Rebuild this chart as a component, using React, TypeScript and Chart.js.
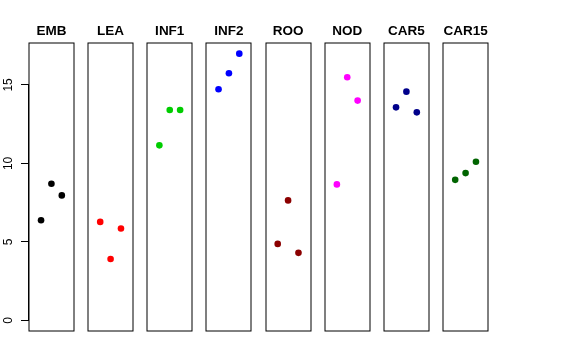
import React, { useEffect, useRef } from "react";
import { Chart, registerables } from "chart.js";

Chart.register(...registerables);

// ---- data ----
const categories = ["EMB", "LEA", "INF1", "INF2", "ROO", "NOD", "CAR5", "CAR15"];
const replicates = [1, 2, 3];
const embValues = [6.38, 8.7, 7.96];
const leaValues = [6.27, 3.91, 5.85];
const inf1Values = [11.15, 13.4, 13.4];
const inf2Values = [14.72, 15.74, 16.99];
const rooValues = [4.87, 7.64, 4.3];
const nodValues = [8.66, 15.49, 14.0];
const car5Values = [13.57, 14.57, 13.25];
const car15Values = [8.95, 9.38, 10.1];
const yTickValues = [0, 5, 10, 15];

const seriesValues = [embValues, leaValues, inf1Values, inf2Values, rooValues, nodValues, car5Values, car15Values];
const colors = ["#000000", "#FF0000", "#00CD00", "#0000FF", "#8B0000", "#FF00FF", "#00008B", "#006400"];

// panel geometry in x units (each panel: xlim 0..4 with 4% extension)
const PANEL_XMIN = 0;
const PANEL_XMAX = 4;
const EXT = 0.04 * (PANEL_XMAX - PANEL_XMIN);
const PANEL_PITCH = 5.7;

export default function App() {
  const ref = useRef<HTMLCanvasElement | null>(null);

  useEffect(() => {
    if (!ref.current) return;
    const allVals = seriesValues.flat();
    const yMax = Math.max(...allVals);
    const yMin = 0;
    const yPad = 0.04 * (yMax - yMin);

    const datasets = categories.map((cat, i) => ({
      label: cat,
      data: seriesValues[i].map((v, j) => ({ x: i * PANEL_PITCH + replicates[j], y: v })),
      backgroundColor: colors[i],
      borderColor: colors[i],
      borderWidth: 0,
      pointRadius: 3.3,
      pointHoverRadius: 3.3,
    }));

    const panelPlugin = {
      id: "panels",
      afterDraw(chart: any) {
        const { ctx, chartArea, scales } = chart;
        const xs = scales.x;
        const ys = scales.y;
        ctx.save();
        // boxes + titles
        categories.forEach((cat, i) => {
          const l = xs.getPixelForValue(i * PANEL_PITCH + PANEL_XMIN - EXT);
          const r = xs.getPixelForValue(i * PANEL_PITCH + PANEL_XMAX + EXT);
          ctx.strokeStyle = "#000";
          ctx.lineWidth = 1;
          ctx.strokeRect(Math.round(l), chartArea.top, Math.round(r) - Math.round(l), chartArea.bottom - chartArea.top);
          ctx.fillStyle = "#000";
          ctx.font = "bold 13.5px 'Liberation Sans', Arial, sans-serif";
          ctx.textAlign = "center";
          ctx.textBaseline = "alphabetic";
          ctx.fillText(cat, (l + r) / 2, chartArea.top - 8);
        });
        // y axis line from first to last tick
        const y0 = ys.getPixelForValue(yTickValues[0]);
        const y1 = ys.getPixelForValue(yTickValues[yTickValues.length - 1]);
        ctx.beginPath();
        ctx.strokeStyle = "#000";
        ctx.lineWidth = 1;
        ctx.moveTo(chartArea.left - 0.5, y0);
        ctx.lineTo(chartArea.left - 0.5, y1);
        ctx.stroke();
        ctx.restore();
      },
    };

    const chart = new Chart(ref.current, {
      type: "scatter",
      data: { datasets },
      options: {
        animation: false,
        responsive: false,
        layout: { padding: { left: 0, top: 43, right: 88, bottom: 29 } },
        plugins: {
          legend: { display: false },
          tooltip: { enabled: false },
          title: { display: false },
        },
        scales: {
          x: {
            type: "linear",
            display: false,
            min: PANEL_XMIN - EXT,
            max: (categories.length - 1) * PANEL_PITCH + PANEL_XMAX + EXT,
          },
          y: {
            type: "linear",
            min: yMin - yPad,
            max: yMax + yPad,
            afterBuildTicks: (scale: any) => {
              scale.ticks = yTickValues.map((v) => ({ value: v }));
            },
            afterFit: (scale: any) => {
              scale.width = 29;
            },
            border: { display: false },
            grid: {
              drawOnChartArea: false,
              drawTicks: true,
              tickLength: 8,
              tickColor: "#000",
              tickWidth: 1,
            },
            ticks: {
              color: "#000",
              font: { family: "'Liberation Sans', Arial, sans-serif", size: 12 },
              minRotation: 90,
              maxRotation: 90,
              crossAlign: "center",
              padding: 6,
              callback: (v: any) => String(v),
            },
          },
        },
      },
      plugins: [panelPlugin],
    });
    return () => chart.destroy();
  }, []);

  return (
    <div style={{ position: "absolute", left: 0, top: 0, width: 576, height: 360, background: "#fff" }}>
      <canvas ref={ref} width={576} height={360} />
    </div>
  );
}
